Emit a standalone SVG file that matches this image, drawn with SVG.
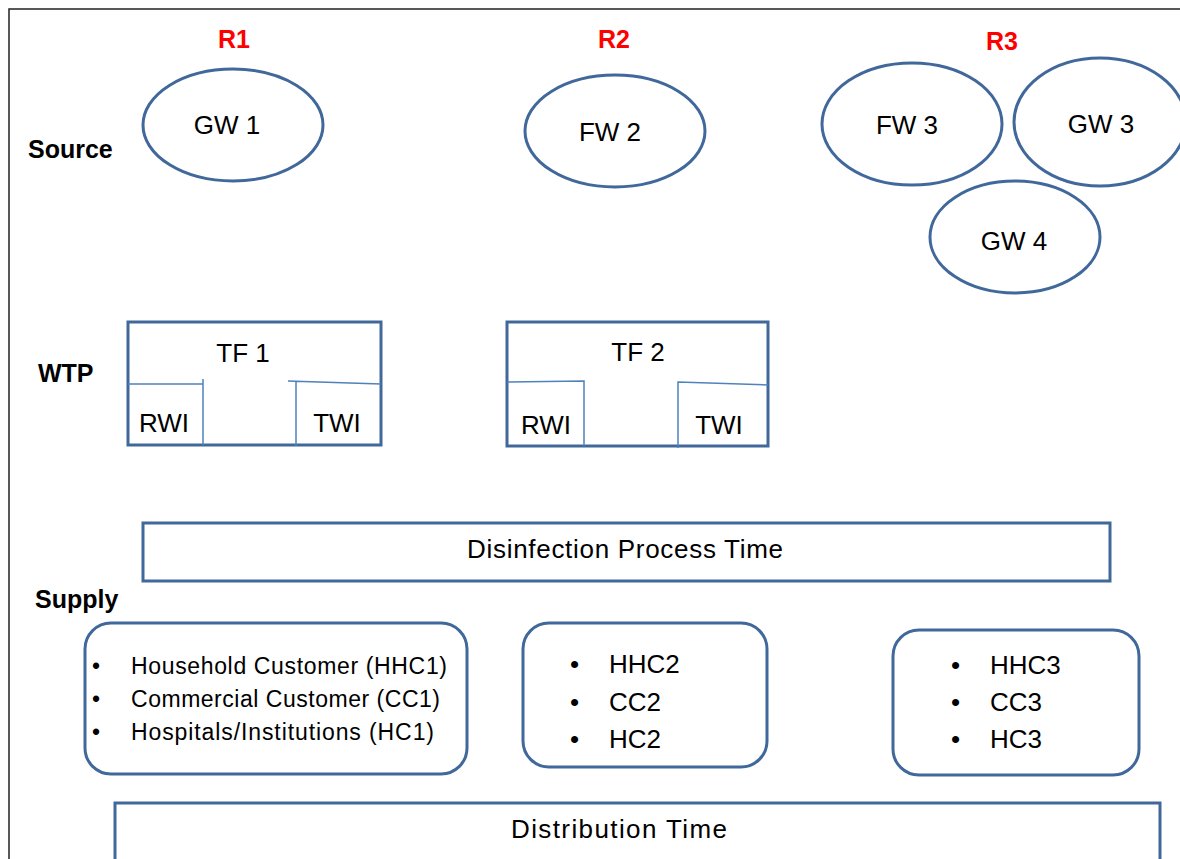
<svg xmlns="http://www.w3.org/2000/svg" width="1180" height="859" viewBox="0 0 1180 859">
<style>
.t{font-family:"Liberation Sans",Arial,sans-serif;fill:#000;font-size:26px}
.c{text-anchor:middle}
.h{font-family:"Liberation Sans",Arial,sans-serif;font-weight:bold;font-size:25px;fill:#000}
.r{font-family:"Liberation Sans",Arial,sans-serif;font-weight:bold;font-size:25px;fill:#ff0000;text-anchor:middle}
.n{fill:#fff;stroke:#41689a;stroke-width:3}
.thin{stroke:#4f81bd;stroke-width:1.5;fill:none}
.b{font-family:"Liberation Sans",Arial,sans-serif;font-size:23px;fill:#000}
</style>
<rect width="1180" height="859" fill="#fff"/>
<path d="M9 859 V9 H1180" fill="none" stroke="#222" stroke-width="1.5"/>
<g id="labels">
<text class="r" x="234" y="48">R1</text>
<text class="r" x="614" y="48">R2</text>
<text class="r" x="1002" y="50">R3</text>
<text class="h" x="28" y="158">Source</text>
<text class="h" x="38" y="382">WTP</text>
<text class="h" x="35" y="608">Supply</text>
</g>
<g id="gw1"><ellipse class="n" cx="233" cy="125" rx="90" ry="56"/><text class="t c" x="227" y="134">GW 1</text></g>
<g id="fw2"><ellipse class="n" cx="615" cy="131" rx="90" ry="56"/><text class="t c" x="610" y="141">FW 2</text></g>
<g id="fw3"><ellipse class="n" cx="912" cy="124" rx="90" ry="61"/><text class="t c" x="907" y="134">FW 3</text></g>
<g id="gw3"><ellipse class="n" cx="1100" cy="122" rx="86" ry="64"/><text class="t c" x="1101" y="133">GW 3</text></g>
<g id="gw4"><ellipse class="n" cx="1015" cy="237" rx="85" ry="56"/><text class="t c" x="1014" y="250">GW 4</text></g>
<g id="tf1">
<rect class="n" x="128" y="322" width="253" height="123"/>
<path class="thin" d="M128 384 H203 M203 379 V445 M296 381 V446 M288 381 L381 384"/>
<text class="t c" x="243" y="362">TF 1</text>
<text class="t c" x="164" y="432">RWI</text>
<text class="t c" x="337" y="432">TWI</text>
</g>
<g id="tf2">
<rect class="n" x="507" y="322" width="261" height="124"/>
<path class="thin" d="M507 382 L584 381 V446 M678 448 V382 L768 385"/>
<text class="t c" x="638" y="361">TF 2</text>
<text class="t c" x="546" y="434">RWI</text>
<text class="t c" x="719" y="434">TWI</text>
</g>
<g id="disinfection">
<rect class="n" x="143" y="523" width="967" height="58"/>
<text class="t c" x="625" y="558" textLength="316">Disinfection Process Time</text>
</g>
<g id="supply1">
<rect class="n" x="85" y="623" width="382" height="151" rx="26"/>
<text class="b" x="92" y="674">•</text><text class="b" x="131" y="674" textLength="316">Household Customer (HHC1)</text>
<text class="b" x="92" y="707">•</text><text class="b" x="131" y="707" textLength="309">Commercial Customer (CC1)</text>
<text class="b" x="92" y="740">•</text><text class="b" x="131" y="740" textLength="303">Hospitals/Institutions (HC1)</text>
</g>
<g id="supply2">
<rect class="n" x="523" y="623" width="244" height="144" rx="26"/>
<text class="t" x="570" y="673">•</text><text class="t" x="609" y="673">HHC2</text>
<text class="t" x="570" y="711">•</text><text class="t" x="609" y="711">CC2</text>
<text class="t" x="570" y="748">•</text><text class="t" x="609" y="748">HC2</text>
</g>
<g id="supply3">
<rect class="n" x="893" y="630" width="246" height="145" rx="26"/>
<text class="t" x="951" y="674">•</text><text class="t" x="990" y="674">HHC3</text>
<text class="t" x="951" y="711">•</text><text class="t" x="990" y="711">CC3</text>
<text class="t" x="951" y="748">•</text><text class="t" x="990" y="748">HC3</text>
</g>
<g id="distribution">
<path class="n" d="M115 862 V803 H1160 V862"/>
<text class="t c" x="619" y="838" textLength="216">Distribution Time</text>
</g>
<g id="connectors"></g>
</svg>
